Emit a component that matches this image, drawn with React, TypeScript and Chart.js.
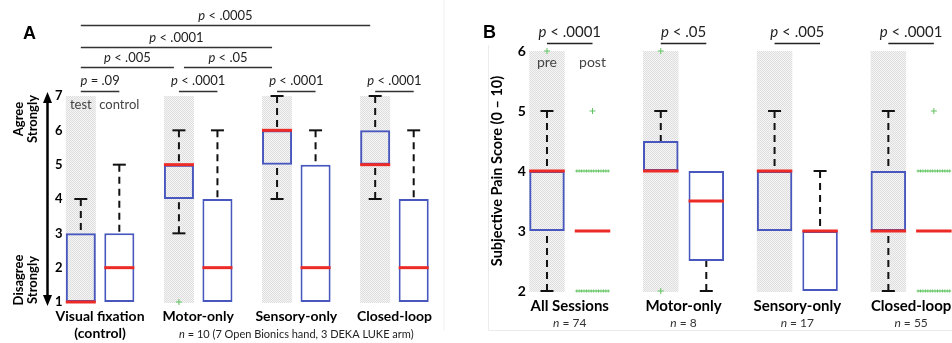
import React, { useEffect, useRef } from "react";
import { Chart, registerables } from "chart.js";

Chart.register(...registerables);

const FONT = "Lato, 'Open Sans', sans-serif";
const BLUE = "#4757bd";
const RED = "#ec2b27";
const GREEN = "#62c462";
const INK = "#111";

// ---------------- Panel A data ----------------
const aCategories: (string | string[])[] = [["Visual fixation", "(control)"], "Motor-only", "Sensory-only", "Closed-loop"];
const aTestQ1 = [1, 4, 5, 5];
const aTestQ3 = [3, 5, 6, 6];
const aTestMedian = [1, 5, 6, 5];
const aTestLow = [1, 3, 4, 4];
const aTestHigh = [4, 6, 7, 7];
const aTestOutliers: number[][][] = [[], [[1, 1]], [], []];
const aCtrlQ1 = [1, 1, 1, 1];
const aCtrlQ3 = [3, 4, 5, 4];
const aCtrlMedian = [2, 2, 2, 2];
const aCtrlLow = [1, 1, 1, 1];
const aCtrlHigh = [5, 6, 6, 6];
const aCtrlOutliers: number[][][] = [[], [], [], []];
const aPairP = ["p = .09", "p < .0001", "p < .0001", "p < .0001"];
const aCompFrom = [0, 1, 0, 0];
const aCompTo = [1, 2, 2, 3];
const aCompLevel = [1, 1, 2, 3];
const aCompP = ["p < .005", "p < .05", "p < .0001", "p < .0005"];
const aNote = "n = 10 (7 Open Bionics hand, 3 DEKA LUKE arm)";

// ---------------- Panel B data ----------------
const bCategories = ["All Sessions", "Motor-only", "Sensory-only", "Closed-loop"];
const bN = [74, 8, 17, 55];
const bPreQ1 = [3, 4, 3, 3];
const bPreQ3 = [4, 4.5, 4, 4];
const bPreMedian = [4, 4, 4, 3];
const bPreLow = [2, 4, 3, 2];
const bPreHigh = [5, 5, 5, 5];
const bPreOutliers: number[][][] = [[[6, 1]], [[6, 1], [2, 1]], [], []];
const bPostQ1 = [3, 2.5, 2, 3];
const bPostQ3 = [3, 4, 3, 3];
const bPostMedian = [3, 3.5, 3, 3];
const bPostLow = [3, 2, 2, 3];
const bPostHigh = [3, 4, 4, 3];
const bPostOutliers: number[][][] = [[[5, 1], [4, 14], [2, 14]], [], [], [[5, 1], [4, 14], [2, 14]]];
const bP = ["p < .0001", "p < .05", "p < .005", "p < .0001"];

type BoxSet = { q1: number[]; q3: number[]; med: number[]; lo: number[]; hi: number[]; out: number[][][] };

function makePattern(ctx: CanvasRenderingContext2D) {
  const off = document.createElement("canvas");
  off.width = 2;
  off.height = 2;
  const o = off.getContext("2d")!;
  o.fillStyle = "#f5f5f5";
  o.fillRect(0, 0, 2, 2);
  o.fillStyle = "#dedede";
  o.fillRect(0, 0, 1, 1);
  o.fillRect(1, 1, 1, 1);
  return ctx.createPattern(off, "repeat")!;
}

function barGeom(bar: any) {
  const p = bar.getProps(["x", "width"], true);
  return { x: p.x as number, w: p.width as number };
}

function drawLead(ctx: CanvasRenderingContext2D, text: string, cx: number, cy: number, size: number, color: string) {
  const lead = text.slice(0, 1);
  const rest = text.slice(1);
  ctx.font = `italic ${size}px ${FONT}`;
  const w1 = ctx.measureText(lead).width;
  ctx.font = `${size}px ${FONT}`;
  const w2 = ctx.measureText(rest).width;
  const x0 = cx - (w1 + w2) / 2;
  ctx.textBaseline = "middle";
  ctx.textAlign = "left";
  ctx.fillStyle = color;
  ctx.font = `italic ${size}px ${FONT}`;
  ctx.fillText(lead, x0, cy);
  ctx.font = `${size}px ${FONT}`;
  ctx.fillText(rest, x0 + w1, cy);
}

function hline(ctx: CanvasRenderingContext2D, x1: number, x2: number, y: number, color: string, lw: number) {
  ctx.strokeStyle = color;
  ctx.lineWidth = lw;
  ctx.beginPath();
  ctx.moveTo(x1, y);
  ctx.lineTo(x2, y);
  ctx.stroke();
}

function boxPlugin(id: string, sets: BoxSet[], capHalf: number) {
  return {
    id,
    beforeDatasetsDraw(chart: any) {
      const { ctx, chartArea } = chart;
      const meta = chart.getDatasetMeta(0);
      ctx.save();
      ctx.fillStyle = makePattern(ctx);
      meta.data.forEach((bar: any) => {
        const { x, w } = barGeom(bar);
        ctx.fillRect(x - w / 2, chartArea.top, w, chartArea.bottom - chartArea.top + 1);
      });
      ctx.restore();
    },
    afterDatasetsDraw(chart: any) {
      const { ctx } = chart;
      const ys = chart.scales.y;
      sets.forEach((s, di) => {
        const meta = chart.getDatasetMeta(di);
        meta.data.forEach((bar: any, i: number) => {
          const { x, w } = barGeom(bar);
          ctx.save();
          const whisker = (from: number, to: number) => {
            if (from === to) return;
            const yf = ys.getPixelForValue(from);
            const yt = ys.getPixelForValue(to);
            ctx.strokeStyle = INK;
            ctx.lineWidth = 2;
            ctx.setLineDash([7, 5]);
            ctx.beginPath();
            ctx.moveTo(x, yt);
            ctx.lineTo(x, yf);
            ctx.stroke();
            ctx.setLineDash([]);
            hline(ctx, x - capHalf, x + capHalf, yt, INK, 2);
          };
          whisker(s.q3[i], s.hi[i]);
          whisker(s.q1[i], s.lo[i]);
          const ym = ys.getPixelForValue(s.med[i]);
          hline(ctx, x - w / 2, x + w / 2, ym, RED, 3);
          ctx.strokeStyle = GREEN;
          ctx.lineWidth = 1;
          s.out[i].forEach(([v, n]) => {
            const yo = ys.getPixelForValue(v);
            if (n <= 1) {
              ctx.beginPath();
              ctx.moveTo(x - 3, yo);
              ctx.lineTo(x + 3, yo);
              ctx.moveTo(x, yo - 3);
              ctx.lineTo(x, yo + 3);
              ctx.stroke();
            } else {
              const step = (w - 4) / (n - 1);
              for (let k = 0; k < n; k++) {
                const xo = x - w / 2 + 2 + k * step;
                ctx.beginPath();
                ctx.moveTo(xo - 1.5, yo);
                ctx.lineTo(xo + 1.5, yo);
                ctx.moveTo(xo, yo - 1.5);
                ctx.lineTo(xo, yo + 1.5);
                ctx.stroke();
              }
            }
          });
          ctx.restore();
        });
      });
    },
  };
}

const annotA = {
  id: "annotA",
  afterDraw(chart: any) {
    const { ctx, chartArea } = chart;
    const ys = chart.scales.y;
    const xs = chart.scales.x;
    const test = chart.getDatasetMeta(0).data.map((b: any) => barGeom(b).x);
    const ctrl = chart.getDatasetMeta(1).data.map((b: any) => barGeom(b).x);
    ctx.save();
    // faint frame
    ctx.strokeStyle = "#eeeeee";
    ctx.lineWidth = 1;
    ctx.beginPath();
    ctx.moveTo(chartArea.right + 0.5, 0);
    ctx.lineTo(chartArea.right + 0.5, 330);
    ctx.stroke();
    // panel letter
    ctx.fillStyle = "#000";
    ctx.font = `bold 18px 'Liberation Sans', Arial, sans-serif`;
    ctx.textAlign = "left";
    ctx.textBaseline = "alphabetic";
    ctx.fillText("A", 23, 39);
    // double arrow
    const ax = 47.5;
    const yTop = ys.getPixelForValue(7) - 2;
    const yBot = ys.getPixelForValue(1) + 2;
    ctx.strokeStyle = "#000";
    ctx.lineWidth = 2.5;
    ctx.beginPath();
    ctx.moveTo(ax, yTop + 6);
    ctx.lineTo(ax, yBot - 6);
    ctx.stroke();
    ctx.fillStyle = "#000";
    ctx.beginPath();
    ctx.moveTo(ax, yTop - 2);
    ctx.lineTo(ax - 4.5, yTop + 9);
    ctx.lineTo(ax + 4.5, yTop + 9);
    ctx.closePath();
    ctx.fill();
    ctx.beginPath();
    ctx.moveTo(ax, yBot + 2);
    ctx.lineTo(ax - 4.5, yBot - 9);
    ctx.lineTo(ax + 4.5, yBot - 9);
    ctx.closePath();
    ctx.fill();
    // Agree / Disagree labels
    const vText = (lines: string[], cy: number) => {
      ctx.save();
      ctx.translate(26, cy);
      ctx.rotate(-Math.PI / 2);
      ctx.font = `bold 13px ${FONT}`;
      ctx.textAlign = "center";
      ctx.textBaseline = "middle";
      ctx.fillStyle = "#000";
      ctx.fillText(lines[0], 0, -7);
      ctx.fillText(lines[1], 0, 7);
      ctx.restore();
    };
    vText(["Agree", "Strongly"], 119);
    vText(["Disagree", "Strongly"], 280);
    // test / control
    ctx.font = `13px ${FONT}`;
    ctx.fillStyle = "#444";
    ctx.textAlign = "center";
    ctx.textBaseline = "middle";
    ctx.fillText("test", test[0], 105);
    ctx.fillText("control", ctrl[0], 105);
    // pairwise p values
    aPairP.forEach((t, i) => {
      hline(ctx, test[i], ctrl[i], 91.5, "#333", 1.5);
      drawLead(ctx, t, (test[i] + ctrl[i]) / 2, 81, 13, "#222");
    });
    const levelLineY = [0, 67.5, 47.5, 25.5];
    aCompP.forEach((t, k) => {
      const x1 = test[aCompFrom[k]] + (aCompFrom[k] > 0 ? 5 : 0);
      const x2 = test[aCompTo[k]] - 5;
      const ly = levelLineY[aCompLevel[k]];
      hline(ctx, x1, x2, ly, "#333", 1.5);
      drawLead(ctx, t, (x1 + x2) / 2, ly - 10, 13, "#222");
    });
    // n note
    drawLead(ctx, aNote, xs.getPixelForValue(2), 334, 11, "#222");
    ctx.restore();
  },
};

const annotB = {
  id: "annotB",
  afterDraw(chart: any) {
    const { ctx } = chart;
    const xs = chart.scales.x;
    const pre = chart.getDatasetMeta(0).data.map((b: any) => barGeom(b).x);
    const post = chart.getDatasetMeta(1).data.map((b: any) => barGeom(b).x);
    ctx.save();
    ctx.strokeStyle = "#ececec";
    ctx.lineWidth = 1;
    ctx.beginPath();
    ctx.moveTo(8.5, 45);
    ctx.lineTo(8.5, 330.5);
    ctx.lineTo(chart.width, 330.5);
    ctx.stroke();
    ctx.fillStyle = "#000";
    ctx.font = `bold 18px 'Liberation Sans', Arial, sans-serif`;
    ctx.textAlign = "left";
    ctx.textBaseline = "alphabetic";
    ctx.fillText("B", 3, 38);
    ctx.font = `14px ${FONT}`;
    ctx.fillStyle = "#444";
    ctx.textAlign = "center";
    ctx.textBaseline = "middle";
    ctx.fillText("pre", pre[0], 62);
    ctx.fillText("post", post[0], 62);
    bP.forEach((t, i) => {
      hline(ctx, pre[i], post[i], 43.5, "#222", 1.5);
      drawLead(ctx, t, (pre[i] + post[i]) / 2, 32, 15, "#222");
    });
    bN.forEach((n, i) => {
      drawLead(ctx, `n = ${n}`, xs.getPixelForValue(i), 323, 12, "#333");
    });
    ctx.restore();
  },
};

function ChartA() {
  const ref = useRef<HTMLCanvasElement>(null);
  useEffect(() => {
    const sets: BoxSet[] = [
      { q1: aTestQ1, q3: aTestQ3, med: aTestMedian, lo: aTestLow, hi: aTestHigh, out: aTestOutliers },
      { q1: aCtrlQ1, q3: aCtrlQ3, med: aCtrlMedian, lo: aCtrlLow, hi: aCtrlHigh, out: aCtrlOutliers },
    ];
    const chart = new Chart(ref.current!, {
      type: "bar",
      data: {
        labels: aCategories as any,
        datasets: [
          {
            label: "test",
            data: aTestQ1.map((q, i) => [q, aTestQ3[i]]) as any,
            backgroundColor: "rgba(0,0,0,0)",
            borderColor: BLUE,
            borderWidth: 2,
            borderSkipped: false,
            categoryPercentage: 0.785,
            barPercentage: 0.78,
          },
          {
            label: "control",
            data: aCtrlQ1.map((q, i) => [q, aCtrlQ3[i]]) as any,
            backgroundColor: "#ffffff",
            borderColor: BLUE,
            borderWidth: 2,
            borderSkipped: false,
            categoryPercentage: 0.785,
            barPercentage: 0.78,
          },
        ],
      },
      options: {
        responsive: false,
        animation: false,
        events: [],
        layout: { padding: { left: 51, right: 36.5, top: 96, bottom: 0 } },
        plugins: { legend: { display: false }, tooltip: { enabled: false } },
        scales: {
          x: {
            grid: { display: false, drawTicks: false },
            border: { display: false },
            ticks: { color: "#000", padding: 6, maxRotation: 0, autoSkip: false, font: { family: FONT, size: 14, weight: "bold" } },
            afterFit: (s: any) => {
              s.height = 41;
            },
          },
          y: {
            min: 1,
            max: 7,
            grid: { display: false, drawTicks: false },
            border: { display: false },
            ticks: { stepSize: 1, mirror: true, padding: 4, color: "#000", font: { family: FONT, size: 13, weight: "bold" } },
            afterFit: (s: any) => {
              s.width = 0;
            },
          },
        },
      } as any,
      plugins: [boxPlugin("boxA", sets, 6.5), annotA],
    });
    return () => chart.destroy();
  }, []);
  return <canvas ref={ref} width={480} height={343} style={{ position: "absolute", left: 0, top: 0, width: 480, height: 343 }} />;
}

function ChartB() {
  const ref = useRef<HTMLCanvasElement>(null);
  useEffect(() => {
    const sets: BoxSet[] = [
      { q1: bPreQ1, q3: bPreQ3, med: bPreMedian, lo: bPreLow, hi: bPreHigh, out: bPreOutliers },
      { q1: bPostQ1, q3: bPostQ3, med: bPostMedian, lo: bPostLow, hi: bPostHigh, out: bPostOutliers },
    ];
    const chart = new Chart(ref.current!, {
      type: "bar",
      data: {
        labels: bCategories,
        datasets: [
          {
            label: "pre",
            data: bPreQ1.map((q, i) => [q, bPreQ3[i]]) as any,
            backgroundColor: "rgba(0,0,0,0)",
            borderColor: BLUE,
            borderWidth: 2,
            borderSkipped: false,
            categoryPercentage: 0.8,
            barPercentage: 0.78,
          },
          {
            label: "post",
            data: bPostQ1.map((q, i) => [q, bPostQ3[i]]) as any,
            backgroundColor: "#ffffff",
            borderColor: BLUE,
            borderWidth: 2,
            borderSkipped: false,
            categoryPercentage: 0.8,
            barPercentage: 0.78,
          },
        ],
      },
      options: {
        responsive: false,
        animation: false,
        events: [],
        layout: { padding: { left: 6, right: 12, top: 51, bottom: 0 } },
        plugins: { legend: { display: false }, tooltip: { enabled: false } },
        scales: {
          x: {
            grid: { display: false, drawTicks: false },
            border: { display: false },
            ticks: { color: "#000", padding: 6, maxRotation: 0, autoSkip: false, font: { family: FONT, size: 15, weight: "bold" } },
            afterFit: (s: any) => {
              s.height = 52;
            },
          },
          y: {
            min: 2,
            max: 6,
            grid: { display: false, drawTicks: false },
            border: { display: false },
            title: { display: true, text: "Subjective Pain Score (0 – 10)", color: "#000", padding: { top: 3, bottom: 0 }, font: { family: FONT, size: 14.5, weight: "bold" } },
            ticks: { stepSize: 1, mirror: true, padding: 5, color: "#000", font: { family: FONT, size: 14, weight: "bold" } },
            afterFit: (s: any) => {
              s.width = 26.85;
            },
          },
        },
      } as any,
      plugins: [boxPlugin("boxB", sets, 6.5), annotB],
    });
    return () => chart.destroy();
  }, []);
  return <canvas ref={ref} width={500} height={343} style={{ position: "absolute", left: 480, top: 0, width: 500, height: 343 }} />;
}

export default function App() {
  return (
    <div style={{ position: "absolute", left: 0, top: 0, width: 952, height: 343, overflow: "hidden", background: "#fff" }}>
      <ChartA />
      <ChartB />
    </div>
  );
}
